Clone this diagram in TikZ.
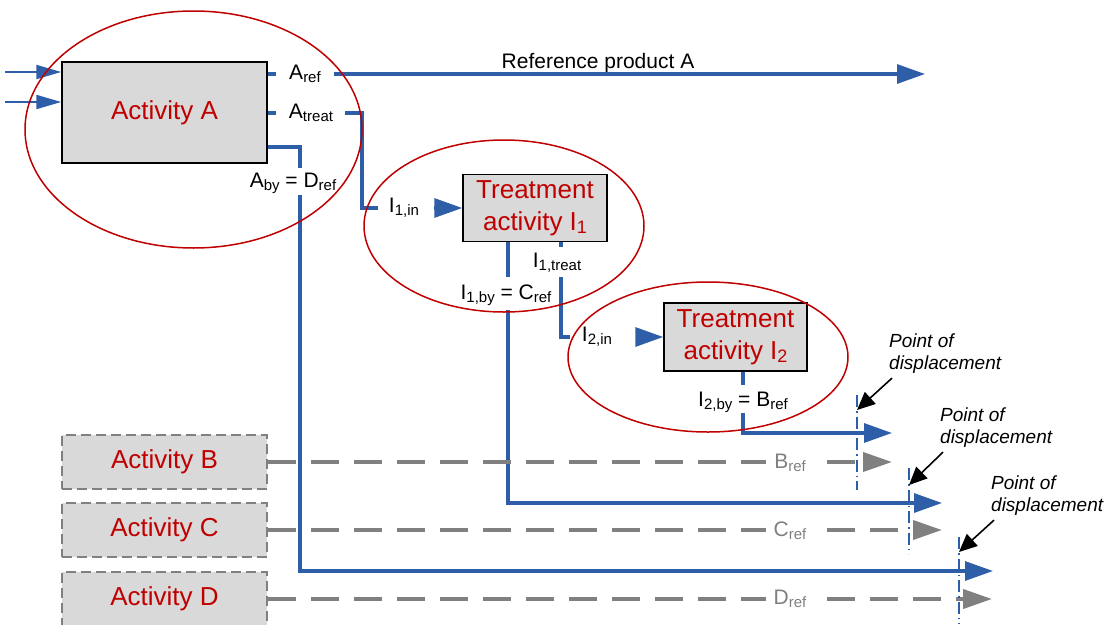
\documentclass[tikz,border=0pt]{standalone}
\usepackage{fontspec}
\setmainfont{Liberation Sans}
\usetikzlibrary{arrows.meta}

\definecolor{flowblue}{RGB}{47,94,168}
\definecolor{actred}{RGB}{192,0,0}
\definecolor{boxgray}{RGB}{217,217,217}
\definecolor{altgray}{RGB}{128,128,128}

% subscripts for labels and for box titles
\newcommand{\lsub}[1]{\raisebox{-0.14em}{\fontsize{15}{15}\selectfont #1}}
\newcommand{\bsub}[1]{\raisebox{-0.13em}{\fontsize{18}{18}\selectfont #1}}

\tikzset{
  activity/.style={draw=black, line width=1.5pt, fill=boxgray, text=actred,
    font=\fontsize{26}{32}\selectfont, inner sep=0pt, align=center},
  altactivity/.style={activity, draw=altgray, dash pattern=on 10pt off 5pt},
  flow/.style={draw=flowblue, line width=3.2pt},
  flowtip/.style={-{Triangle[length=28pt,width=19pt]}},
  inflow/.style={draw=flowblue, line width=2pt, -{Triangle[length=25pt,width=14pt]}},
  altflow/.style={draw=altgray, line width=4pt, dash pattern=on 28pt off 15pt,
    -{Triangle[length=29pt,width=19pt]}},
  lbl/.style={font=\fontsize{21}{21}\selectfont, inner sep=1pt},
  altlbl/.style={lbl, text=altgray, fill=white, inner xsep=8pt},
  bound/.style={draw=actred, line width=1.5pt},
  displ/.style={draw=flowblue, line width=1.3pt, dash pattern=on 12pt off 4pt on 1.5pt off 4pt},
  ptr/.style={draw=black, line width=1.6pt, -{Triangle[length=18pt,width=16pt]}},
  podlbl/.style={font=\fontsize{19}{22}\selectfont\itshape, align=left, inner sep=0pt, anchor=north west},
}

\begin{document}
\begin{tikzpicture}[x=1pt,y=-1pt]
\clip (0,0) rectangle (1106,624);

% activities
\node[activity, minimum width=205pt, minimum height=101pt] (actA) at (164.5,112.5) {Activity A};
\node[activity, minimum width=144pt, minimum height=67pt] (actI1) at (535,208) {Treatment\\activity I\bsub{1}};
\node[activity, minimum width=143pt, minimum height=68pt] (actI2) at (735.5,337) {Treatment\\activity I\bsub{2}};
\node[altactivity, minimum width=205pt, minimum height=54pt] (actB) at (164.5,462) {Activity B};
\node[altactivity, minimum width=205pt, minimum height=54pt] (actC) at (164.5,530) {Activity C};
\node[altactivity, minimum width=205pt, minimum height=54pt] (actD) at (164.5,599) {Activity D};

% inputs of activity A
\coordinate (inA1) at (5,72);
\coordinate (inA2) at (5,102);
\draw[inflow] (inA1) -- (inA1 -| actA.west);
\draw[inflow] (inA2) -- (inA2 -| actA.west);

% flow labels
\node[lbl] (lAref) at (305,74) {A\lsub{ref}};
\node[lbl] (lAtreat) at (311,113) {A\lsub{treat}};
\node[lbl] (lAby) at (293,183) {A\lsub{by} = D\lsub{ref}};
\node[lbl, anchor=base] (lprod) at (598,68) {Reference product A};
\node[lbl] (lI1in) at (404,208) {I\lsub{1,in}};
\node[lbl] (lI1treat) at (557,263) {I\lsub{1,treat}};
\node[lbl] (lI1by) at (506,295) {I\lsub{1,by} = C\lsub{ref}};
\node[lbl] (lI2in) at (597,337) {I\lsub{2,in}};
\node[lbl] (lI2by) at (743,402) {I\lsub{2,by} = B\lsub{ref}};

% end points and bends of the flows
\coordinate (prodA) at (925,74);
\coordinate (treatbend) at (362,113);
\coordinate (byA1) at (300,168);
\coordinate (byA2) at (300,195);
\coordinate (dEnd) at (993,571);
\coordinate (byI1a) at (508,277);
\coordinate (byI1b) at (508,310);
\coordinate (cEnd) at (942,503);
\coordinate (trI1a) at (561,247);
\coordinate (trI1b) at (561,277);
\coordinate (byI2a) at (743,385);
\coordinate (byI2b) at (743,413);
\coordinate (bEnd) at (892,433);
\coordinate (bAlt) at (892,462);
\coordinate (cAlt) at (942,530);
\coordinate (dAlt) at (992,599);

% outputs of activity A
\draw[flow] (actA.east |- lAref) -- ([xshift=-12pt]lAref.west);
\draw[flow,flowtip] ([xshift=12pt]lAref.east) -- (prodA);
\draw[flow] (actA.east |- lAtreat) -- ([xshift=-12pt]lAtreat.west);
\draw[flow] ([xshift=11pt]lAtreat.east) -- (treatbend) |- ([xshift=-10pt]lI1in.west);
\draw[flow,flowtip] ([xshift=14pt]lI1in.east) -- (actI1.west);
\draw[flow] (actA.east |- 0,147) -| (byA1);
\draw[flow,flowtip] (byA2) |- (dEnd);

% outputs of treatment activity I1
\draw[flow] (actI1.south -| byI1a) -- (byI1a);
\draw[flow,flowtip] (byI1b) |- (cEnd);
\draw[flow] (actI1.south -| trI1a) -- (trI1a);
\draw[flow] (trI1b) |- ([xshift=-11pt]lI2in.west);
\draw[flow,flowtip] ([xshift=24pt]lI2in.east) -- (actI2.west);

% output of treatment activity I2
\draw[flow] (actI2.south -| byI2a) -- (byI2a);
\draw[flow,flowtip] (byI2b) |- (bEnd);

% alternative supply of the displaced products
\draw[altflow] (actB.east) -- (bAlt);
\draw[altflow] (actC.east) -- (cAlt);
\draw[altflow] (actD.east) -- (dAlt);
\node[altlbl] (lBref) at (790,463) {B\lsub{ref}};
\node[altlbl] (lCref) at (790,531) {C\lsub{ref}};
\node[altlbl] (lDref) at (790,599) {D\lsub{ref}};

% points of displacement
\coordinate (pd1a) at (857,395); \coordinate (pd1b) at (857,490);
\coordinate (pd2a) at (909,468); \coordinate (pd2b) at (909,554);
\coordinate (pd3a) at (959,537); \coordinate (pd3b) at (959,624);
\draw[displ] (pd1a) -- (pd1b);
\draw[displ] (pd2a) -- (pd2b);
\draw[displ] (pd3a) -- (pd3b);

\node[podlbl] (pod1) at (889,334) {Point of\\displacement};
\node[podlbl] (pod2) at (940,408) {Point of\\displacement};
\node[podlbl] (pod3) at (991,476) {Point of\\displacement};
\coordinate (pt1) at (857,410);
\coordinate (pt2) at (909,485);
\coordinate (pt3) at (959,552);
\draw[ptr] (pod1.south west) ++(3,4) -- (pt1);
\draw[ptr] (pod2.south west) ++(3,4) -- (pt2);
\draw[ptr] (pod3.south west) ++(3,4) -- (pt3);

% system boundaries
\draw[bound] (193.5,129.5) ellipse [x radius=168.5pt, y radius=118.5pt];
\draw[bound] (504,226) ellipse [x radius=140pt, y radius=86pt];
\draw[bound] (708,357) ellipse [x radius=140pt, y radius=75pt];
\end{tikzpicture}
\end{document}
